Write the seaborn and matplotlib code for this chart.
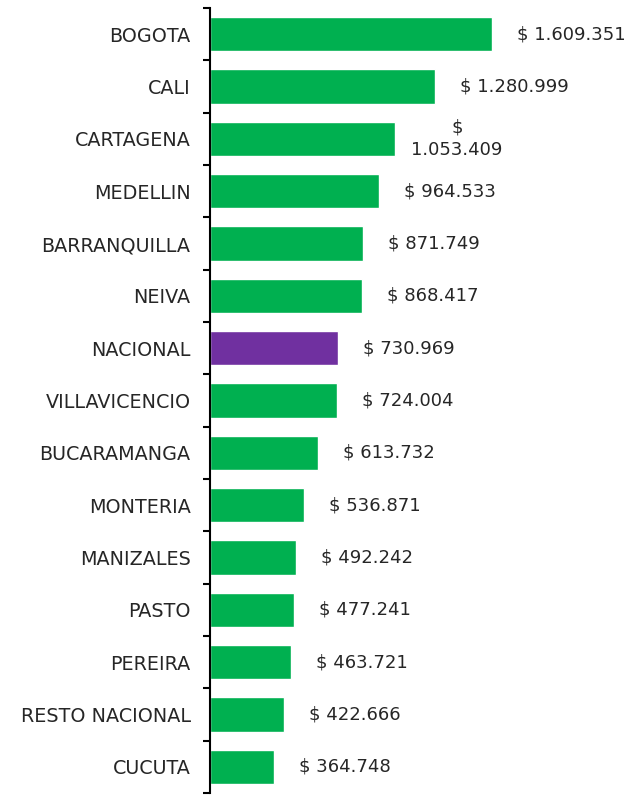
import matplotlib
matplotlib.use("Agg")
import matplotlib.pyplot as plt
from matplotlib.ticker import FixedLocator
import seaborn as sns
import pandas as pd

cities = ["BOGOTA", "CALI", "CARTAGENA", "MEDELLIN", "BARRANQUILLA", "NEIVA",
          "NACIONAL", "VILLAVICENCIO", "BUCARAMANGA", "MONTERIA", "MANIZALES",
          "PASTO", "PEREIRA", "RESTO NACIONAL", "CUCUTA"]
values = [1609351, 1280999, 1053409, 964533, 871749, 868417, 730969, 724004,
          613732, 536871, 492242, 477241, 463721, 422666, 364748]

green = "#00B050"
purple = "#7030A0"
colors = {c: (purple if c == "NACIONAL" else green) for c in cities}

df = pd.DataFrame({"city": cities, "value": values})

sns.set_style("white")
plt.rcParams["font.family"] = ["DejaVu Sans"]

fig = plt.figure(figsize=(6.35, 7.95), dpi=100)
ax = fig.add_axes([210 / 635, 2 / 795, 425 / 635, 785 / 795])

sns.barplot(data=df, y="city", x="value", hue="city", palette=colors,
            order=cities, width=0.65, legend=False, ax=ax, saturation=1)

ax.set_xlim(0, 2425000)
ax.set_ylim(len(cities) - 0.5, -0.5)

for i, v in enumerate(values):
    num = f"{v:,}".replace(",", ".")
    if cities[i] == "CARTAGENA":
        ax.annotate(f"$\n{num}", xy=(v, i), xytext=(12, 0), textcoords="offset points",
                    ha="left", va="center", multialignment="center",
                    fontsize=13, color="#262626", linespacing=1.3)
    else:
        ax.annotate(f"$ {num}", xy=(v, i), xytext=(18, 0), textcoords="offset points",
                    ha="left", va="center", fontsize=13, color="#262626")

for s in ["top", "right", "bottom"]:
    ax.spines[s].set_visible(False)
ax.spines["left"].set_color("black")
ax.spines["left"].set_linewidth(1.5)

ax.set_xticks([])
ax.set_xlabel("")
ax.set_ylabel("")
ax.tick_params(axis="y", which="major", length=0, pad=14, labelsize=13.8,
               labelcolor="#262626")
ax.yaxis.set_minor_locator(FixedLocator([i - 0.5 for i in range(len(cities) + 1)]))
ax.tick_params(axis="y", which="minor", left=True, length=5, width=1.5,
               color="black", direction="out")

fig.savefig("out.png", dpi=100)
